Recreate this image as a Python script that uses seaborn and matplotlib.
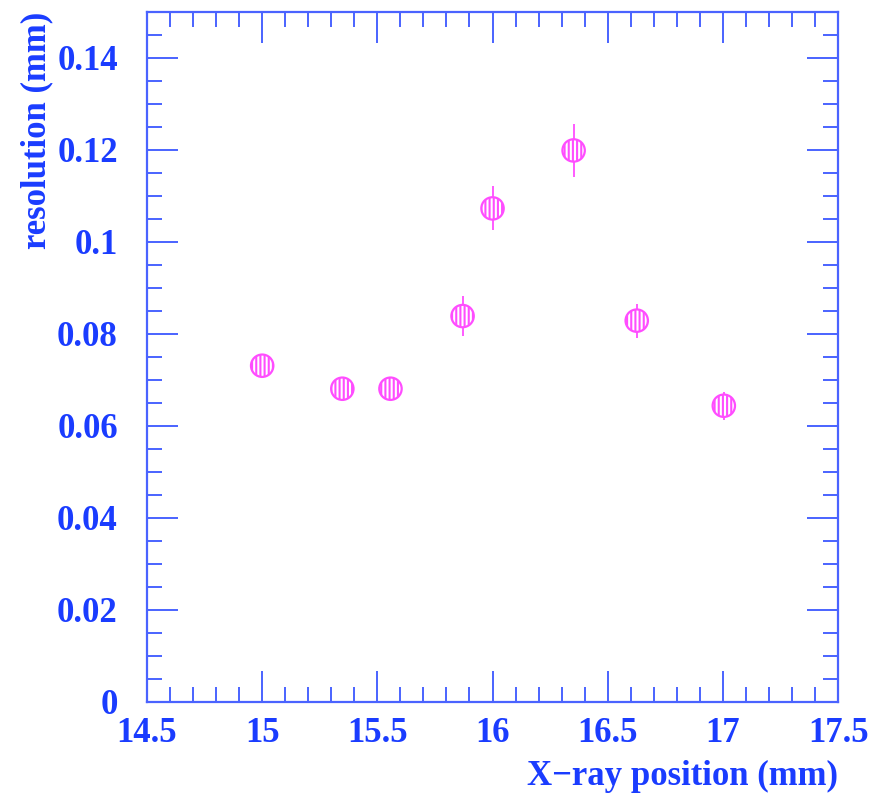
import matplotlib
matplotlib.use("Agg")
import matplotlib.pyplot as plt
from matplotlib.ticker import MultipleLocator
import seaborn as sns
import pandas as pd

# data
xpos = [15.0, 15.348, 15.557, 15.87, 16.0, 16.352, 16.626, 17.004]
resolution = [0.0731, 0.0681, 0.0681, 0.0839, 0.1073, 0.1199, 0.0829, 0.0644]
res_err = [0.0026, 0.0022, 0.0022, 0.0043, 0.0048, 0.0058, 0.0037, 0.0030]

xticks = [14.5, 15, 15.5, 16, 16.5, 17, 17.5]
xticklabels = ["14.5", "15", "15.5", "16", "16.5", "17", "17.5"]
yticks = [0, 0.02, 0.04, 0.06, 0.08, 0.1, 0.12, 0.14]
yticklabels = ["0", "0.02", "0.04", "0.06", "0.08", "0.1", "0.12", "0.14"]

df = pd.DataFrame({"x": xpos, "res": resolution, "err": res_err})

sns.set_style("ticks")
plt.rcParams["font.family"] = ["Liberation Serif", "DejaVu Serif"]
plt.rcParams["hatch.linewidth"] = 1.5

AXIS_C = "#4a63ff"
TEXT_C = "#1a3cff"
MAG = "#ff4dff"
FS = 25

fig = plt.figure(figsize=(8.86, 7.94), dpi=100)
ax = fig.add_axes([0.1659, 0.1159, 0.780, 0.869])

ax.errorbar(df["x"], df["res"], yerr=df["err"], fmt="none",
            ecolor=MAG, elinewidth=1.3, capsize=0, zorder=2)
sns.scatterplot(data=df, x="x", y="res", ax=ax, s=260, marker="o",
                facecolor="white", edgecolor=MAG, linewidth=1.6,
                hatch="||||", zorder=3, legend=False)

ax.set_xlim(14.5, 17.5)
ax.set_ylim(0, 0.15)
ax.set_xticks(xticks)
ax.set_xticklabels(xticklabels)
ax.set_yticks(yticks)
ax.set_yticklabels(yticklabels)
ax.xaxis.set_minor_locator(MultipleLocator(0.1))
ax.yaxis.set_minor_locator(MultipleLocator(0.005))

for s in ax.spines.values():
    s.set_color(AXIS_C)
    s.set_linewidth(1.6)
ax.tick_params(which="both", direction="in", top=True, right=True,
               color=AXIS_C, width=1.4)
ax.tick_params(which="major", length=22, labelsize=FS, labelcolor=TEXT_C)
ax.tick_params(which="minor", length=11)
ax.tick_params(axis="x", which="major", pad=11)
ax.tick_params(axis="y", which="major", pad=21)
for lab in ax.get_xticklabels() + ax.get_yticklabels():
    lab.set_fontweight("bold")

ax.set_xlabel("X\u2212ray position (mm)", fontsize=FS, fontweight="bold",
              color=TEXT_C, loc="right", labelpad=7)
ax.set_ylabel("resolution (mm)", fontsize=FS, fontweight="bold",
              color=TEXT_C, loc="top", labelpad=3)

fig.savefig("out.png", dpi=100)
plt.close(fig)
